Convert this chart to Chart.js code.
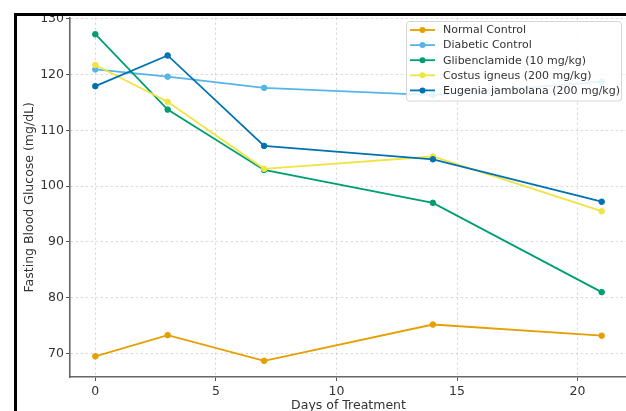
<!DOCTYPE html>
<html>
<head>
<meta charset="utf-8">
<script src="https://cdn.jsdelivr.net/npm/chart.js@4.4.1/dist/chart.umd.min.js"></script>
<style>
    html, body { margin: 0; padding: 0; background: #fff; overflow: hidden; }
    #frame {
        position: absolute; left: 14px; top: 13px;
        width: 612px; height: 398px;
        border-left: 3px solid #000; border-top: 3px solid #000;
        overflow: hidden;
    }
    #wrap { position: absolute; left: -17px; top: -16px; width: 640px; height: 425px; }
</style>
</head>
<body>
<div id="frame"><div id="wrap"><canvas id="glucoseChart" width="640" height="425"></canvas></div></div>
<script>
/*==============================================================
    DATA
==============================================================*/
const days = [0, 3, 7, 14, 21];
const seriesNames = [
    "Normal Control",
    "Diabetic Control",
    "Glibenclamide (10 mg/kg)",
    "Costus igneus (200 mg/kg)",
    "Eugenia jambolana (200 mg/kg)"
];
const normalControl = [69.5, 73.3, 68.7, 75.2, 73.2];
const diabeticControl = [120.9, 119.6, 117.6, 116.3, 118.7];
const glibenclamide = [127.2, 113.7, 102.9, 97.0, 81.0];
const costusIgneus = [121.7, 115.1, 103.1, 105.3, 95.5];
const eugeniaJambolana = [117.9, 123.4, 107.2, 104.8, 97.2];
const xTicks = [0, 5, 10, 15, 20];
const yTicks = [70, 80, 90, 100, 110, 120, 130];

const seriesValues = [normalControl, diabeticControl, glibenclamide, costusIgneus, eugeniaJambolana];
const seriesColors = ["#E69F00", "#56B4E9", "#009E73", "#F0E442", "#0072B2"];

const FONT = "'DejaVu Sans', sans-serif";

/*==============================================================
    LEGEND (drawn inside the plot, upper right)
==============================================================*/
const boxLegend = {
    id: "boxLegend",
    afterDraw(chart) {
        const ctx = chart.ctx;
        const area = chart.chartArea;
        const right = area.right - 6;
        const left = right - 215;
        const top = area.top + 3.5;
        const rowH = 15.1;
        const h = rowH * seriesNames.length + 4;
        ctx.save();
        ctx.beginPath();
        ctx.roundRect(left + 0.5, top + 0.5, right - left, h, 3);
        ctx.fillStyle = "rgba(255,255,255,0.85)";
        ctx.fill();
        ctx.strokeStyle = "#d6d6d6";
        ctx.lineWidth = 1;
        ctx.stroke();
        ctx.font = "11px " + FONT;
        ctx.textBaseline = "middle";
        seriesNames.forEach(function (name, i) {
            const y = top + 9 + i * rowH;
            ctx.strokeStyle = seriesColors[i];
            ctx.lineWidth = 1.8;
            ctx.beginPath();
            ctx.moveTo(left + 4, y);
            ctx.lineTo(left + 29, y);
            ctx.stroke();
            ctx.beginPath();
            ctx.arc(left + 16.5, y, 3, 0, Math.PI * 2);
            ctx.fillStyle = seriesColors[i];
            ctx.fill();
            ctx.fillStyle = "#333";
            ctx.fillText(name, left + 37, y + 0.5);
        });
        ctx.restore();
    }
};

/*==============================================================
    CHART
==============================================================*/
function glucoseChart() {
    const ctx = document.getElementById("glucoseChart");
    new Chart(ctx, {
        type: "line",
        data: {
            datasets: seriesNames.map(function (name, i) {
                return {
                    label: name,
                    data: seriesValues[i].map(function (v, j) { return { x: days[j], y: v }; }),
                    borderColor: seriesColors[i],
                    backgroundColor: seriesColors[i],
                    pointBackgroundColor: seriesColors[i],
                    pointBorderColor: seriesColors[i],
                    pointRadius: 2.8,
                    pointBorderWidth: 1,
                    borderWidth: 1.8,
                    tension: 0,
                    fill: false,
                    order: seriesNames.length - i
                };
            })
        },
        options: {
            responsive: false,
            animation: false,
            layout: { padding: { top: 17.5, right: 13, bottom: 0, left: 0 } },
            plugins: {
                legend: { display: false },
                tooltip: { enabled: false }
            },
            scales: {
                x: {
                    type: "linear",
                    min: -1.05,
                    max: 22.05,
                    afterBuildTicks: function (scale) { scale.ticks = xTicks.map(function (v) { return { value: v }; }); },
                    afterFit: function (scale) { scale.height = 48; },
                    grid: {
                        color: "rgba(170,170,170,0.55)",
                        lineWidth: 0.8,
                        tickColor: "#555",
                        tickLength: 4,
                        tickWidth: 1,
                        tickBorderDash: []
                    },
                    border: { display: true, color: "#666", width: 1.6, dash: [2.5, 2.5] },
                    ticks: {
                        color: "#333",
                        padding: 3,
                        maxRotation: 0,
                        font: { family: FONT, size: 12.5 }
                    },
                    title: {
                        display: true,
                        text: "Days of Treatment",
                        color: "#333",
                        font: { family: FONT, size: 12.5 },
                        padding: { top: 0, bottom: 11.5 }
                    }
                },
                y: {
                    min: 65.8,
                    max: 130.2,
                    afterBuildTicks: function (scale) { scale.ticks = yTicks.map(function (v) { return { value: v }; }); },
                    afterFit: function (scale) { scale.width = 70; },
                    grid: {
                        color: "rgba(170,170,170,0.55)",
                        lineWidth: 0.8,
                        tickColor: "#555",
                        tickLength: 4,
                        tickWidth: 1,
                        tickBorderDash: []
                    },
                    border: { display: true, color: "#666", width: 1.6, dash: [2.5, 2.5] },
                    ticks: {
                        color: "#333",
                        padding: 2,
                        font: { family: FONT, size: 12.5 }
                    },
                    title: {
                        display: true,
                        text: "Fasting Blood Glucose (mg/dL)",
                        color: "#333",
                        font: { family: FONT, size: 12.5 },
                        padding: { top: 22.5, bottom: 0 }
                    }
                }
            }
        },
        plugins: [boxLegend]
    });
}

glucoseChart();
</script>
</body>
</html>
